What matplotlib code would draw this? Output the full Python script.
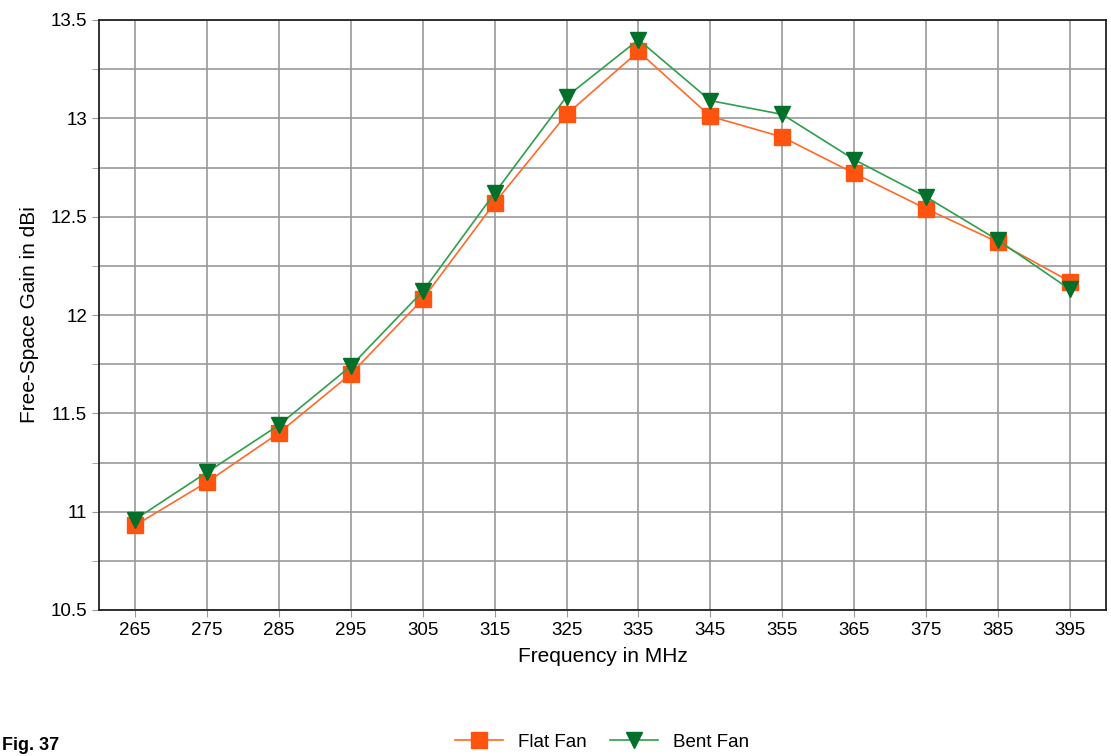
import matplotlib.pyplot as plt
import numpy as np

plt.rcParams['font.family'] = ['Liberation Sans', 'DejaVu Sans']

freq = [265, 275, 285, 295, 305, 315, 325, 335, 345, 355, 365, 375, 385, 395]
flat_fan = [10.93, 11.15, 11.40, 11.70, 12.08, 12.57, 13.02, 13.34, 13.01, 12.905, 12.72, 12.54, 12.37, 12.17]
bent_fan = [10.96, 11.20, 11.44, 11.74, 12.12, 12.62, 13.11, 13.40, 13.09, 13.02, 12.79, 12.60, 12.38, 12.13]
yticks = [10.5, 11, 11.5, 12, 12.5, 13, 13.5]

fig = plt.figure(figsize=(11.11, 7.56), dpi=100)
ax = fig.add_axes([99 / 1111, 1 - 610 / 756, (1106 - 99) / 1111, 590 / 756])

ax.plot(freq, flat_fan, color='#ff6a2a', lw=1.2, marker='s', markersize=11,
        markerfacecolor='#ff5410', markeredgecolor='#ff5410', label='Flat Fan', zorder=3)
ax.plot(freq, bent_fan, color='#2f9e4c', lw=1.2, marker='v', markersize=12,
        markerfacecolor='#00702a', markeredgecolor='#00702a', label='Bent Fan', zorder=4)

ax.set_xlim(260, 400)
ax.set_ylim(10.5, 13.5)
ax.set_xticks(freq)
ax.set_yticks(yticks)
ax.set_yticklabels([f'{v:g}' for v in yticks])
# lineas intermedies cada 0.25
ax.set_yticks(np.arange(10.75, 13.5, 0.5), minor=True)
ax.grid(True, which='both', color='#999999', lw=1.2)
ax.set_axisbelow(True)
ax.tick_params(which='both', direction='out', length=5, color='#999999', labelsize=13.5)
for s in ax.spines.values():
    s.set_color('#222222')
    s.set_linewidth(1.3)

ax.set_xlabel('Frequency in MHz', fontsize=15, labelpad=6)
ax.set_ylabel('Free-Space Gain in dBi', fontsize=15, labelpad=8)

fig.legend(loc='center', bbox_to_anchor=(602 / 1111, 1 - 742 / 756), ncol=2, frameon=False,
           fontsize=13.5, handlelength=2.6, columnspacing=1.2, handletextpad=0.8)
fig.text(0.002, 1 - 746 / 756, 'Fig. 37', fontsize=13, fontweight='bold', va='center')

fig.savefig('out.png', dpi=100)
